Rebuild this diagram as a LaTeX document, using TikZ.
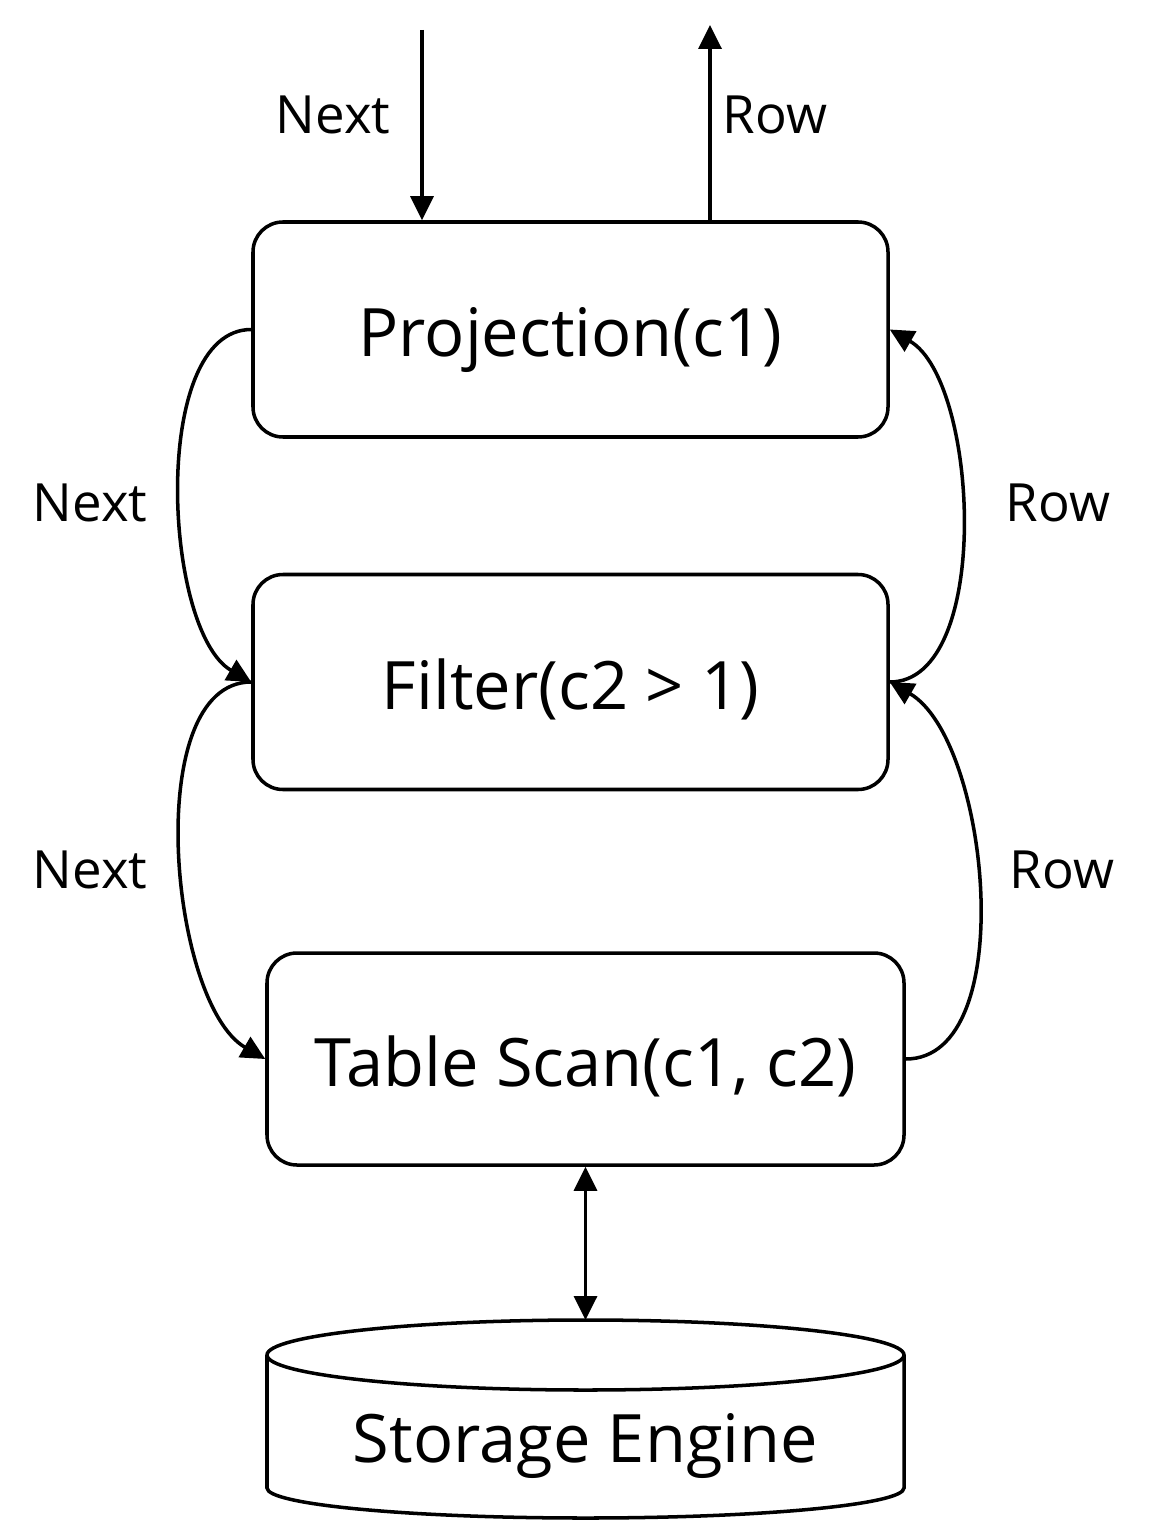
\documentclass[tikz,border=0pt]{standalone}
\usepackage{fontspec}
\setmainfont{Open Sans}
\usetikzlibrary{positioning,calc,arrows.meta}

\begin{document}
\begin{tikzpicture}[
    boxtext/.style={font=\fontsize{38}{45}\selectfont, text height=1.3cm, text depth=0.22cm},
    op/.style={draw, line width=2pt, rounded corners=0.6cm, minimum width=12.7cm, minimum height=4.3cm, boxtext},
    flow/.style={line width=2pt, -{Triangle[length=0.48cm,width=0.46cm]}},
    bothway/.style={line width=2pt, {Triangle[length=0.48cm,width=0.46cm]}-{Triangle[length=0.48cm,width=0.46cm]}},
    lbl/.style={font=\fontsize{30}{36}\selectfont}
]
    \useasboundingbox (0,0) rectangle (23.36,-30.52);

    % Operators
    \node [op] (proj) at (11.41, -6.59) {Projection(c1)};
    \node [op] (filter) at (11.41, -13.64) {Filter(c2 > 1)};
    \node [op, minimum width=12.74cm, minimum height=4.24cm] (scan) at (11.71, -21.18) {Table Scan(c1, c2)};

    % Storage Engine
    \draw [line width=2pt] (11.71, -27.1) ellipse (6.37 and 0.7);
    \draw [line width=2pt] (5.34, -27.1) -- (5.34, -29.76)
        arc [start angle=180, end angle=360, x radius=6.37, y radius=0.6] -- (18.08, -27.1);
    \coordinate (engtop) at (11.71, -26.4);
    \node [boxtext] (engine) at (11.71, -28.7) {Storage Engine};

    % Top input / output
    \coordinate (nextin) at (8.44, -0.6);
    \coordinate (rowout) at (14.2, -0.5);
    \draw [flow] (nextin) -- (nextin |- proj.north);
    \draw [flow] (rowout |- proj.north) -- (rowout);
    \node [lbl] (nexttop) at (6.66, -2.3) {Next};
    \node [lbl] (rowtop) at (15.5, -2.3) {Row};

    % Next calls going down
    \draw [flow] (proj.west) to [out=180, in=150, looseness=0.74] (filter.west);
    \draw [flow] (filter.west) to [out=180, in=150, looseness=0.75] (scan.west);
    \node [lbl] (nextone) at (1.8, -10.06) {Next};
    \node [lbl] (nexttwo) at (1.8, -17.4) {Next};

    % Rows coming up
    \draw [flow] (filter.east) to [out=0, in=-30, looseness=0.75] (proj.east);
    \draw [flow] (scan.east) to [out=0, in=-30, looseness=0.78] (filter.east);
    \node [lbl] (rowone) at (21.16, -10.06) {Row};
    \node [lbl] (rowtwo) at (21.24, -17.4) {Row};

    % Table scan <-> storage
    \draw [bothway] (scan.south) -- (engtop);
\end{tikzpicture}
\end{document}
